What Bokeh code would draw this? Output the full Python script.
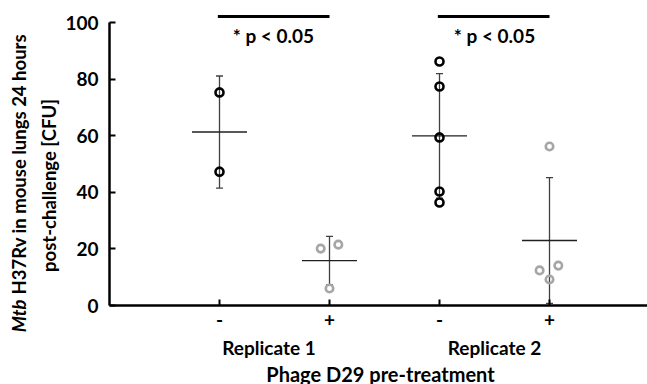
import numpy as np
from bokeh.plotting import figure
from bokeh.models import Range1d, FixedTicker, Label
from bokeh.embed import file_html
from bokeh.resources import INLINE

# ---- data ----
group_x = [1, 2, 3, 4]
tick_labels = ["-", "+", "-", "+"]
replicate_labels = ["Replicate 1", "Replicate 2"]
rep1_minus = [75.3, 47.3]
rep1_plus = [20.1, 21.5, 6.0]
rep2_minus = [86.2, 77.4, 59.4, 40.3, 36.4]
rep2_plus = [12.4, 9.2, 14.1, 56.2]
rep1_plus_jitter = [-0.08, 0.08, 0.0]
rep2_plus_jitter = [-0.09, 0.0, 0.08, 0.0]
y_ticks = [0, 20, 40, 60, 80, 100]
sig_text = "* p < 0.05"
x_title = "Phage D29 pre-treatment"
y_title_italic = "Mtb"
y_title_1 = "H37Rv in mouse lungs 24 hours"
y_title_2 = "post-challenge [CFU]"

FONT = "Lato"
FS = "19px"
FS_Y = "18.5px"
W, H = 647, 384
# pixel geometry of the reference axes
X0_PX, X1_PX = 109, 219          # x=0 and x=1
Y0_PX, Y100_PX = 305, 22         # y=0 and y=100
xs = (X1_PX - X0_PX)             # px per x unit
ys = (Y0_PX - Y100_PX) / 100.0   # px per y unit

def dx(px):
    return (px - X0_PX) / xs

def dy(py):
    return (Y0_PX - py) / ys

p = figure(width=W, height=H, x_range=Range1d(dx(0), dx(W)), y_range=Range1d(dy(H), dy(0)),
           output_backend="svg", toolbar_location=None,
           min_border=0, min_border_left=0, min_border_right=0, min_border_top=0,
           min_border_bottom=0)
p.outline_line_color = None
p.grid.visible = False
p.background_fill_color = "white"
p.border_fill_color = "white"

# axes, drawn at the data origin
p.xaxis.fixed_location = 0
p.yaxis.fixed_location = 0
p.yaxis.ticker = FixedTicker(ticks=y_ticks)
p.yaxis.bounds = (0, 100)
p.xaxis.bounds = (0, dx(W))
p.xaxis.ticker = FixedTicker(ticks=group_x)
p.xaxis.major_label_overrides = {k: v for k, v in zip(group_x, tick_labels)}
for ax in (p.xaxis, p.yaxis):
    ax.axis_line_width = 2.5
    ax.axis_line_color = "black"
    ax.major_tick_in = 6
    ax.major_tick_out = 0
    ax.major_tick_line_width = 2
    ax.major_tick_line_color = "black"
    ax.minor_tick_line_color = None
    ax.major_label_text_font = FONT
    ax.major_label_text_font_style = "bold"
    ax.major_label_text_font_size = FS
    ax.major_label_text_color = "black"
p.yaxis.major_label_standoff = 11
p.xaxis.major_label_standoff = 7

# stats (mean +/- SD)
all_groups = [rep1_minus, rep1_plus, rep2_minus, rep2_plus]
means = [float(np.mean(g)) for g in all_groups]
sds = [float(np.std(g, ddof=1)) for g in all_groups]
lo = [m - s for m, s in zip(means, sds)]
hi = [m + s for m, s in zip(means, sds)]

ERR = "#404040"
cap = 0.032
half = 0.25
p.segment(x0=group_x, y0=lo, x1=group_x, y1=hi, line_color=ERR, line_width=1.3)
p.segment(x0=[x - cap for x in group_x], y0=hi, x1=[x + cap for x in group_x], y1=hi,
          line_color=ERR, line_width=1.3)
p.segment(x0=[x - cap for x in group_x], y0=lo, x1=[x + cap for x in group_x], y1=lo,
          line_color=ERR, line_width=1.3)
p.segment(x0=[x - half for x in group_x], y0=means, x1=[x + half for x in group_x], y1=means,
          line_color="#202020", line_width=1.3)

# points
bx = [group_x[0]] * len(rep1_minus) + [group_x[2]] * len(rep2_minus)
by = rep1_minus + rep2_minus
gx = [group_x[1] + j for j in rep1_plus_jitter] + [group_x[3] + j for j in rep2_plus_jitter]
gy = rep1_plus + rep2_plus
p.scatter(bx, by, marker="circle", size=8, fill_color=None, line_color="black", line_width=2.6)
p.scatter(gx, gy, marker="circle", size=7.5, fill_color=None, line_color="#a6a6a6", line_width=2.6)

# significance bars
sig_y = dy(16)
p.segment(x0=[group_x[0] - 0.015, group_x[2] - 0.015], y0=[sig_y, sig_y],
          x1=[group_x[1], group_x[3]], y1=[sig_y, sig_y],
          line_color="black", line_width=3)
for cx in (1.49, 3.50):
    p.add_layout(Label(x=cx, y=dy(35), text=sig_text, text_font=FONT, text_font_style="bold",
                       text_font_size=FS, text_align="center", text_baseline="middle",
                       text_color="black"))

# replicate labels and x title
for cx, t in zip((1.45, 3.5), replicate_labels):
    p.add_layout(Label(x=cx, y=dy(347), text=t, text_font=FONT, text_font_style="bold",
                       text_font_size=FS, text_align="center", text_baseline="middle",
                       text_color="black"))
p.add_layout(Label(x=dx(380), y=dy(373), text=x_title, text_font=FONT, text_font_style="bold",
                   text_font_size="20px", text_align="center", text_baseline="middle",
                   text_color="black"))

# y title
p.add_layout(Label(x=dx(18), y=dy(299), text=y_title_italic, angle=np.pi / 2, text_font=FONT,
                   text_font_style="bold italic", text_font_size=FS_Y, text_align="right",
                   text_baseline="middle", text_color="black"))
p.add_layout(Label(x=dx(18), y=dy(294), text=y_title_1, angle=np.pi / 2,
                   text_font=FONT, text_font_style="bold", text_font_size=FS_Y,
                   text_align="left", text_baseline="middle", text_color="black"))
p.add_layout(Label(x=dx(48), y=dy(185), text=y_title_2, angle=np.pi / 2,
                   text_font=FONT, text_font_style="bold", text_font_size=FS_Y,
                   text_align="center", text_baseline="middle", text_color="black"))

open("out.html", "w").write(file_html(p, INLINE))
